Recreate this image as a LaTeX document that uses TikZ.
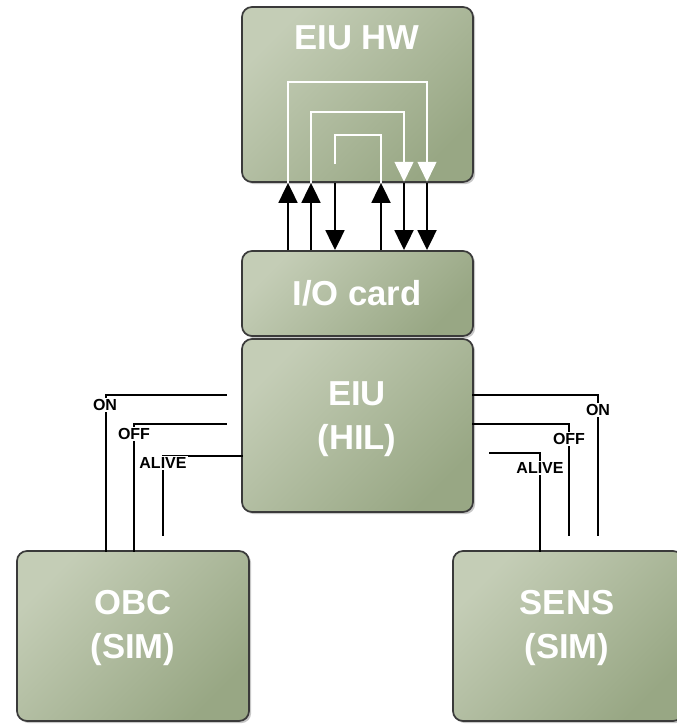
\documentclass[tikz,border=0pt]{standalone}
\usepackage{fontspec}
\setmainfont{Liberation Sans}
\usetikzlibrary{arrows.meta,shadows}
\definecolor{boxlight}{RGB}{196,205,182}
\definecolor{boxdark}{RGB}{152,167,132}
\definecolor{boxedge}{RGB}{58,58,58}
\tikzset{
  box/.style={draw=boxedge, line width=1.3pt, rounded corners=7.5pt,
    top color=boxlight, bottom color=boxdark, shading angle=45,
    drop shadow={shadow xshift=1.6pt, shadow yshift=-1.6pt, fill=black, opacity=0.22},
    inner sep=0pt},
  bigtext/.style={text=white, font=\bfseries\fontsize{26}{33}\selectfont, align=center},
  sig/.style={line width=2.1pt, line cap=rect},
  siglabel/.style={fill=white, inner sep=1pt, font=\bfseries\fontsize{12}{13}\selectfont},
  upline/.style={line width=2.2pt, -{Triangle[length=15pt, width=14pt]}},
  whiteline/.style={draw=white, line width=1.9pt},
  whitearrow/.style={whiteline, -{Triangle[length=15pt, width=14pt]}},
}
\begin{document}
\begin{tikzpicture}[x=0.75pt, y=-0.75pt]
\useasboundingbox (0,0) rectangle (677,724);

% blocks
\node[box, minimum width=231*0.75pt, minimum height=175*0.75pt] (hw) at (357.5,94.5) {};
\node[box, minimum width=231*0.75pt, minimum height=85*0.75pt] (io) at (357.5,293.5) {};
\node[box, minimum width=231*0.75pt, minimum height=173*0.75pt] (eiu) at (357.5,425.5) {};
\node[box, minimum width=232*0.75pt, minimum height=170*0.75pt] (obc) at (133,636) {};
\node[box, minimum width=230*0.75pt, minimum height=170*0.75pt] (sens) at (568,636) {};

\node[bigtext] (hwt) at (357,38) {EIU HW};
\node[bigtext] (iot) at (357,293) {I/O card};
\node[bigtext] (eiut) at (357,419) {EIU\\(HIL)};
\node[bigtext] (obct) at (133,628) {OBC\\(SIM)};
\node[bigtext] (senst) at (567,628) {SENS\\(SIM)};

% bus lines between I/O card and EIU HW
\coordinate (b1) at (288,0);
\coordinate (b2) at (311,0);
\coordinate (b3) at (335,0);
\coordinate (b4) at (381,0);
\coordinate (b5) at (404,0);
\coordinate (b6) at (427,0);
\draw[upline] (io.north -| b1) -- (hw.south -| b1);
\draw[upline] (io.north -| b2) -- (hw.south -| b2);
\draw[upline] (hw.south -| b3) -- (io.north -| b3);
\draw[upline] (io.north -| b4) -- (hw.south -| b4);
\draw[upline] (hw.south -| b5) -- (io.north -| b5);
\draw[upline] (hw.south -| b6) -- (io.north -| b6);

% internal loop-backs inside EIU HW
\coordinate (loopin) at (335,164);
\draw[whitearrow] (hw.south -| b1) -- (288,82) -- (427,82) -- ([yshift=0.8pt]hw.south -| b6);
\draw[whitearrow] (hw.south -| b2) -- (311,112) -- (404,112) -- ([yshift=0.8pt]hw.south -| b5);
\draw[whiteline] (loopin) -- (335,135) -- (381,135) -- (hw.south -| b4);

% discrete signals to OBC
\coordinate (lon) at (226,395);
\coordinate (loff) at (226,424);
\coordinate (lalive) at (163,535);
\draw[sig] (lon) -- (106,395) -- (obc.north -| 106,0);
\draw[sig] (loff) -- (134,424) -- (obc.north -| 134,0);
\draw[sig] (eiu.west |- 0,456) -- (163,456) -- (lalive);
\node[siglabel] (lonl) at (105,405) {ON};
\node[siglabel] (loffl) at (134,434) {OFF};
\node[siglabel] (lalivel) at (163,463) {ALIVE};

% discrete signals to SENS
\coordinate (ron) at (598,535);
\coordinate (roff) at (569,535);
\coordinate (ralive) at (490,453);
\draw[sig] (eiu.east |- 0,395) -- (598,395) -- (ron);
\draw[sig] (eiu.east |- 0,424) -- (569,424) -- (roff);
\draw[sig] (ralive) -- (540,453) -- (sens.north -| 540,0);
\node[siglabel] (ronl) at (598,410) {ON};
\node[siglabel] (roffl) at (569,439) {OFF};
\node[siglabel] (ralivel) at (540,468) {ALIVE};
\end{tikzpicture}
\end{document}
